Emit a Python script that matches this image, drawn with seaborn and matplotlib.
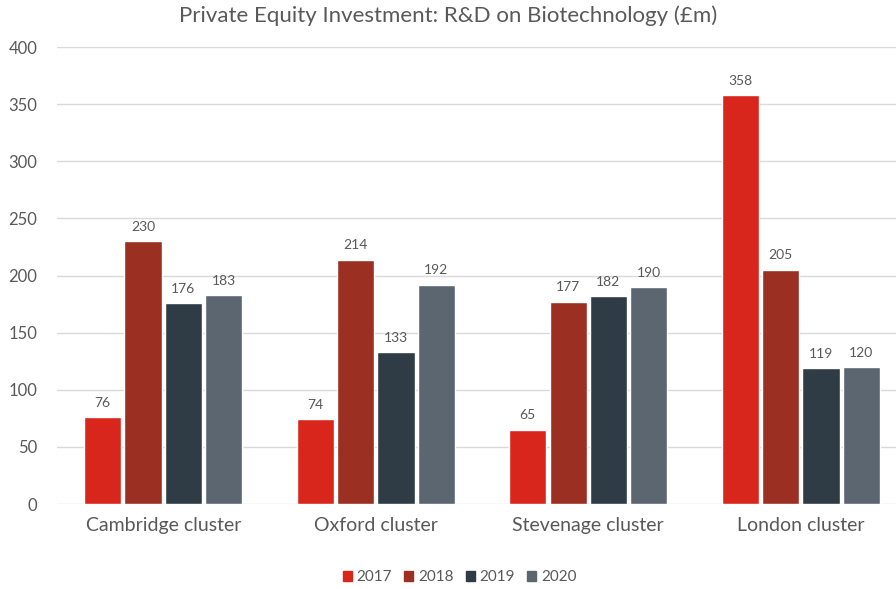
import pandas as pd
import matplotlib.pyplot as plt
import seaborn as sns

clusters = ["Cambridge cluster", "Oxford cluster", "Stevenage cluster", "London cluster"]
years = ["2017", "2018", "2019", "2020"]
v2017 = [76, 74, 65, 358]
v2018 = [230, 214, 177, 205]
v2019 = [176, 133, 182, 119]
v2020 = [183, 192, 190, 120]

colors = ["#D9261C", "#9A2F22", "#2F3B45", "#5B6670"]
text_grey = "#595959"

rows = []
for yr, vals in zip(years, [v2017, v2018, v2019, v2020]):
    for c, v in zip(clusters, vals):
        rows.append({"cluster": c, "year": yr, "value": v})
df = pd.DataFrame(rows)

sns.set_theme(style="white")
plt.rcParams['font.family'] = ['Lato', 'DejaVu Sans']

fig = plt.figure(figsize=(8.96, 5.89), dpi=100)
ax = fig.add_axes([0.0636, 0.1443, 0.9364, 0.7759])

sns.barplot(data=df, x="cluster", y="value", hue="year", palette=colors,
            width=0.76, gap=0.08, saturation=1, ax=ax, legend=False)

for cont in ax.containers:
    ax.bar_label(cont, fmt="%d", padding=6, fontsize=10, color=text_grey)

ax.set_ylim(0, 400)
ax.set_yticks(range(0, 401, 50))
ax.set_xlim(-0.5, 3.448)
ax.yaxis.grid(True, color="#d9d9d9", linewidth=1)
ax.set_axisbelow(True)
for s in ax.spines.values():
    s.set_visible(False)
ax.set_xlabel("")
ax.set_ylabel("")
ax.tick_params(axis="y", length=0, labelsize=12, labelcolor=text_grey, pad=14)
ax.tick_params(axis="x", length=0, labelsize=14, labelcolor=text_grey, pad=9)

fig.suptitle("Private Equity Investment: R&D on Biotechnology (£m)", y=0.99,
             fontsize=16, color=text_grey)

handles = [plt.Rectangle((0, 0), 1, 1, color=c) for c in colors]
fig.legend(handles, years, loc="center", bbox_to_anchor=(0.513, 0.02),
           ncol=4, frameon=False, fontsize=11, labelcolor=text_grey,
           handlelength=0.6, handleheight=0.6, handletextpad=0.3, columnspacing=0.8)

fig.savefig("out.png", dpi=100)
